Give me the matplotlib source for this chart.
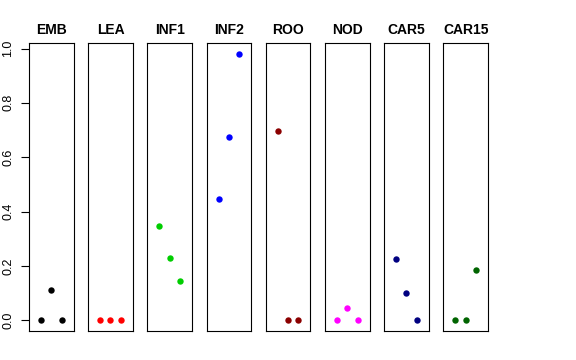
import matplotlib
matplotlib.use("Agg")
import matplotlib.pyplot as plt

categories = ["EMB", "LEA", "INF1", "INF2", "ROO", "NOD", "CAR5", "CAR15"]
values = [
    [0.0, 0.111, 0.0],
    [0.0, 0.0, 0.0],
    [0.348, 0.231, 0.143],
    [0.448, 0.673, 0.981],
    [0.697, 0.0, 0.0],
    [0.0, 0.044, 0.0],
    [0.224, 0.101, 0.0],
    [0.0, 0.0, 0.185],
]
colors = ["#000000", "#FF0000", "#00CD00", "#0000FF", "#8B0000", "#FF00FF", "#000080", "#006400"]
yticks = [0.0, 0.2, 0.4, 0.6, 0.8, 1.0]
ytick_labels = ["0.0", "0.2", "0.4", "0.6", "0.8", "1.0"]

plt.rcParams['font.family'] = ['Liberation Sans', 'DejaVu Sans']

W, H = 576, 360
fig = plt.figure(figsize=(W / 100, H / 100), dpi=100)

left0 = 29.0
step = 59.2
pw = 44.5
top = 43.0
bottom = 331.0
ymax = max(max(v) for v in values)
ylo, yhi = 0.0 - 0.04 * ymax, ymax + 0.04 * ymax

for i, (cat, vals, col) in enumerate(zip(categories, values, colors)):
    x0 = left0 + i * step
    ax = fig.add_axes([x0 / W, (H - bottom) / H, pw / W, (bottom - top) / H])
    xs = list(range(1, len(vals) + 1))
    ax.plot(xs, vals, linestyle='none', marker='o', markersize=4.6,
            color=col, markeredgewidth=0)
    ax.set_xlim(-0.16, 4.16)
    ax.set_ylim(ylo, yhi)
    ax.set_xticks([])
    for s in ax.spines.values():
        s.set_linewidth(0.8)
        s.set_color('#000000')
    ax.set_title(cat, fontsize=10, fontweight='bold', pad=6.5)
    if i == 0:
        ax.set_yticks(yticks)
        ax.set_yticklabels(ytick_labels, rotation=90, va='center', fontsize=9)
        ax.tick_params(axis='y', length=5.5, width=0.8, pad=5)
    else:
        ax.set_yticks([])

fig.savefig("out.png", dpi=100)
